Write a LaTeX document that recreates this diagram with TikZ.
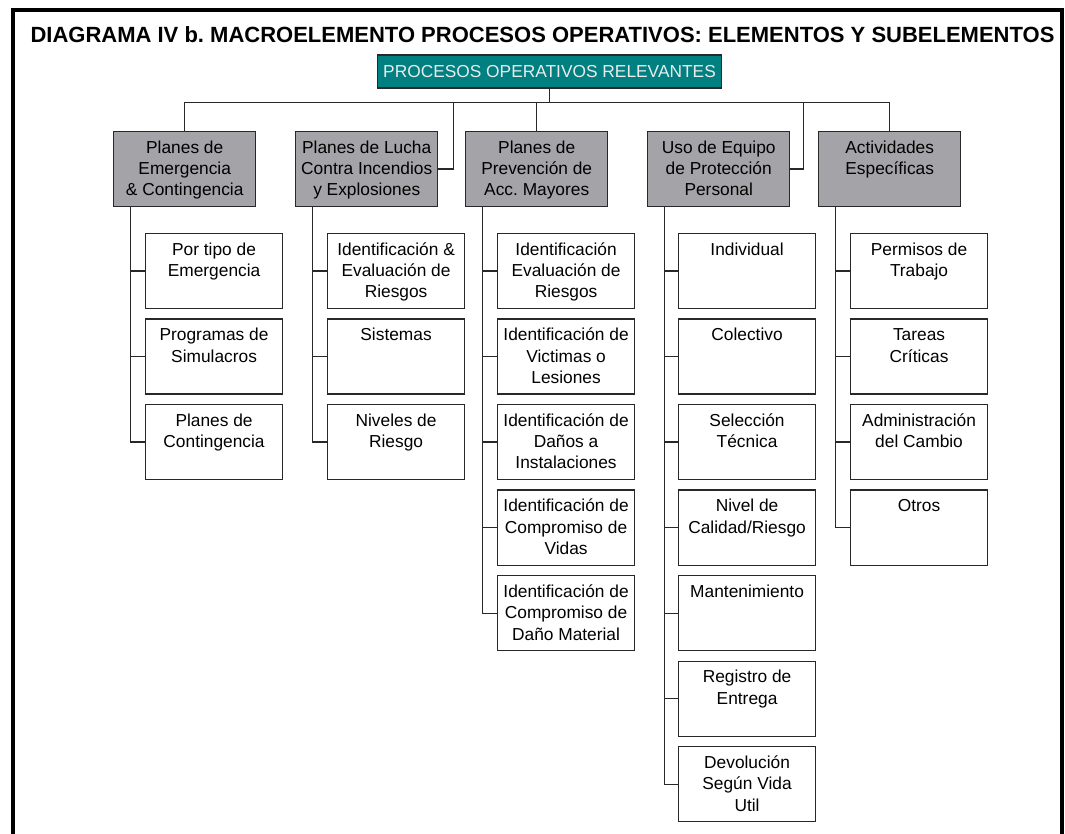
\documentclass[tikz,border=0pt]{standalone}
\usepackage{fontspec}
\setmainfont{Liberation Sans}
\frenchspacing

\definecolor{headgray}{RGB}{164,164,168}
\definecolor{procteal}{RGB}{0,128,128}
\definecolor{edgegray}{RGB}{40,40,40}

% text sits at the top of the box
\newcommand{\cellbox}[2]{\parbox[t][56.25pt][t]{#1}{\centering\rule{0pt}{16pt}#2}}

\begin{document}
\begin{tikzpicture}[x=0.75pt, y=-0.75pt,
    every node/.style={font=\fontsize{13}{16.1}\selectfont},
    head/.style={draw=edgegray, line width=1.1pt, fill=headgray, inner sep=0pt, anchor=north west},
    sub/.style={draw=edgegray, line width=1.1pt, fill=white, inner sep=0pt, anchor=north west},
    link/.style={draw=edgegray, line width=1.1pt}]
    \useasboundingbox (0,0) rectangle (1065,834);
    \draw[line width=3pt] (12.5,845) |- (1061.5,10.5) -- (1061.5,845);

    \node[anchor=base, font=\fontsize{16.5}{19}\selectfont\bfseries] (title) at (542.5,43)
        {DIAGRAMA IV b. MACROELEMENTO PROCESOS OPERATIVOS: ELEMENTOS Y SUBELEMENTOS};
    \node[draw=edgegray, line width=1.1pt, fill=procteal, text=white!92!black,
        minimum width=258pt, minimum height=24.75pt, inner sep=0pt] (proc) at (549.5,71.5)
        {PROCESOS OPERATIVOS RELEVANTES};

    % elementos
    \node[head] (h1) at (113,131) {\cellbox{106.5pt}{Planes de\\Emergencia\\\& Contingencia}};
    \node[head] (h2) at (295,131) {\cellbox{106.5pt}{Planes de Lucha\\Contra Incendios\\y Explosiones}};
    \node[head] (h3) at (465,131) {\cellbox{106.5pt}{Planes de\\Prevención de\\Acc. Mayores}};
    \node[head] (h4) at (647,131) {\cellbox{106.5pt}{Uso de Equipo\\de Protección\\Personal}};
    \node[head] (h5) at (818,131) {\cellbox{106.5pt}{Actividades\\Específicas}};

    % subelementos
    \foreach \t [count=\r] in {{Por tipo de\\Emergencia},{Programas de\\Simulacros},{Planes de\\Contingencia}}
        \node[sub] (e1-\r) at (145,{233+85.5*(\r-1)}) {\cellbox{102.5pt}{\t}};
    \foreach \t [count=\r] in {{Identificación \&\\Evaluación de\\Riesgos},{Sistemas},{Niveles de\\Riesgo}}
        \node[sub] (e2-\r) at (327,{233+85.5*(\r-1)}) {\cellbox{102.5pt}{\t}};
    \foreach \t [count=\r] in {{Identificación\\Evaluación de\\Riesgos},{Identificación de\\Victimas o\\Lesiones},
        {Identificación de\\Daños a\\Instalaciones},{Identificación de\\Compromiso de\\Vidas},
        {Identificación de\\Compromiso de\\Daño Material}}
        \node[sub] (e3-\r) at (497,{233+85.5*(\r-1)}) {\cellbox{102.5pt}{\t}};
    \foreach \t [count=\r] in {{Individual},{Colectivo},{Selección\\Técnica},{Nivel de\\Calidad/Riesgo},
        {Mantenimiento},{Registro de\\Entrega},{Devolución\\Según Vida\\Util}}
        \node[sub] (e4-\r) at (678,{233+85.5*(\r-1)}) {\cellbox{102.5pt}{\t}};
    \foreach \t [count=\r] in {{Permisos de\\Trabajo},{Tareas\\Críticas},{Administración\\del Cambio},{Otros}}
        \node[sub] (e5-\r) at (850,{233+85.5*(\r-1)}) {\cellbox{102.5pt}{\t}};

    % ramas
    \draw[link] (proc.south) -- ++(0,14) coordinate (bus);
    \draw[link] (h1.north) |- (bus) -| (h5.north);
    \draw[link] (h3.north) -- (h3.north |- bus);
    \draw[link] (h2.east) -- ++(15,0) |- (bus);
    \draw[link] (h4.east) -- ++(13,0) |- (bus);
    \foreach \c/\n in {1/3,2/3,3/5,4/7,5/4} {
        \coordinate (t\c) at ([xshift=13pt]h\c.south west);
        \draw[link] (t\c) |- (e\c-\n.west);
        \foreach \r in {1,...,\n}
            \draw[link] (t\c |- e\c-\r.west) -- (e\c-\r.west);
    }
\end{tikzpicture}
\end{document}
